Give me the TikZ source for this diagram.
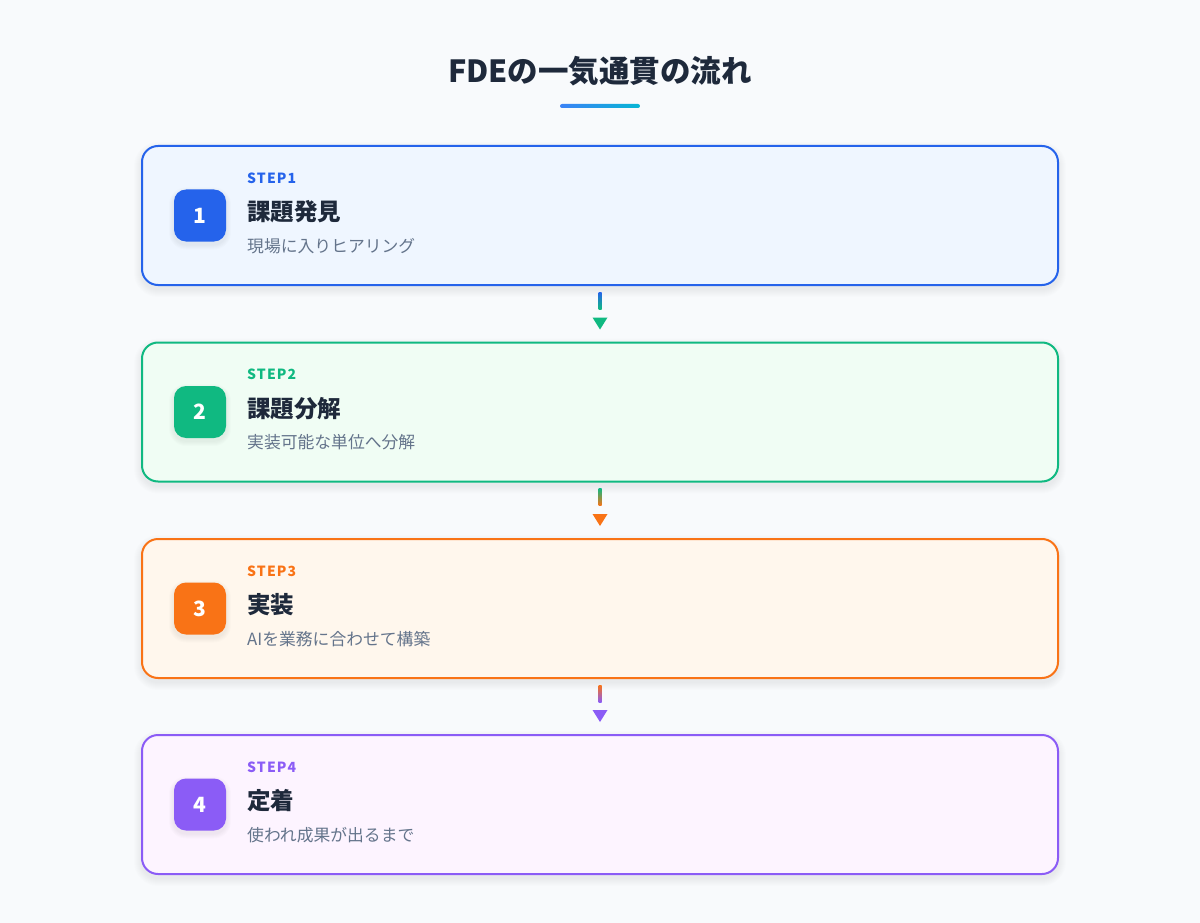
\documentclass[tikz,border=0pt]{standalone}
\usepackage{fontspec}
\setmainfont{Noto Sans CJK JP}
\usetikzlibrary{calc}
\definecolor{bg}{HTML}{F8FAFC}
\definecolor{ink}{HTML}{1E293B}
\definecolor{muted}{HTML}{64748B}
\definecolor{cA}{HTML}{2563EB}\definecolor{cAl}{HTML}{EFF6FF}
\definecolor{cB}{HTML}{10B981}\definecolor{cBl}{HTML}{F0FDF4}
\definecolor{cC}{HTML}{F97316}\definecolor{cCl}{HTML}{FFF7ED}
\definecolor{cD}{HTML}{8B5CF6}\definecolor{cDl}{HTML}{FDF4FF}
\definecolor{lineA}{HTML}{3B82F6}\definecolor{lineB}{HTML}{06B6D4}
\begin{document}
\begin{tikzpicture}[x=1pt,y=-1pt,
  stepbox/.style={draw, line width=2pt, rounded corners=16pt, minimum width=916pt, minimum height=139pt},
  badge/.style={rounded corners=12pt, minimum size=52pt, inner sep=0pt, text=white,
    font=\fontsize{21}{24}\selectfont\bfseries},
  steplabel/.style={anchor=west, inner sep=0pt, font=\fontsize{14}{16}\selectfont\bfseries\addfontfeatures{LetterSpace=8}},
  steptitle/.style={anchor=west, inner sep=0pt, text=ink, font=\fontsize{23.5}{27}\selectfont\bfseries},
  stepsub/.style={anchor=west, inner sep=0pt, text=muted, font=\fontsize{16.8}{19}\selectfont},
]
\fill[bg] (0,0) rectangle (1200,923);
\useasboundingbox (0,0) rectangle (1200,923);

\node[text=ink, font=\fontsize{30.5}{36}\selectfont\bfseries] (title) at (600,71) {FDEの一気通貫の流れ};
\shade[left color=lineA, right color=lineB, rounded corners=2pt] (560,104) rectangle (640,108);

% soft shadows
\foreach \y in {215.5,412,608.5,804.5}{
  \foreach \i in {1,...,8}{
    \fill[black, opacity=0.006, rounded corners=16pt+\i pt]
      (142-\i,\y-69.5+4-\i) rectangle (1058+\i,\y+69.5+4+\i);
  }
}

% boxes
\node[stepbox, draw=cA, fill=cAl] (b1) at (600,215.5) {};
\node[stepbox, draw=cB, fill=cBl] (b2) at (600,412) {};
\node[stepbox, draw=cC, fill=cCl] (b3) at (600,608.5) {};
\node[stepbox, draw=cD, fill=cDl] (b4) at (600,804.5) {};

% contents
\foreach \b/\c/\n/\t/\s in {b1/cA/1/課題発見/現場に入りヒアリング,
                             b2/cB/2/課題分解/実装可能な単位へ分解,
                             b3/cC/3/実装/AIを業務に合わせて構築,
                             b4/cD/4/定着/使われ成果が出るまで}{
  \foreach \i in {1,...,5}{
    \fill[black, opacity=0.012, rounded corners=12pt+\i pt]
      ($(\b.west)+(59-26-\i,-26+3-\i)$) rectangle ($(\b.west)+(59+26+\i,26+3+\i)$);
  }
  \node[badge, fill=\c] (n\n) at ($(\b.west)+(59,0)$) {\n};
  \node[steplabel, text=\c] (l\n) at ($(\b.north west)+(106,33)$) {STEP\n};
  \node[steptitle] (t\n) at ($(\b.north west)+(106,67)$) {\t};
  \node[stepsub] (s\n) at ($(\b.north west)+(106,101)$) {\s};
}

% connectors
\foreach \a/\b/\ca/\cb in {b1/b2/cA/cB, b2/b3/cB/cC, b3/b4/cC/cD}{
  \shade[top color=\ca, bottom color=\cb] ($(\a.south)+(-1.5,6)$) rectangle ($(\a.south)+(1.5,23)$);
  \fill[\cb] ($(\b.north)+(-7.5,-24)$) -- ($(\b.north)+(7.5,-24)$) -- ($(\b.north)+(0,-12)$) -- cycle;
}
\end{tikzpicture}
\end{document}
